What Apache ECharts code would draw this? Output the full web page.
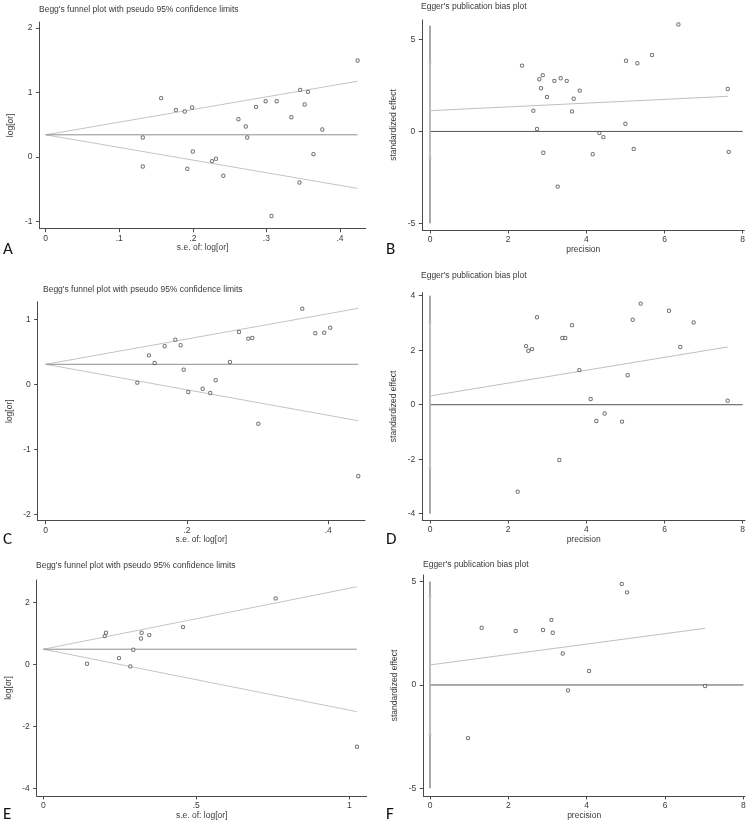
<!DOCTYPE html>
<html><head><meta charset="utf-8">
<script src="https://cdn.jsdelivr.net/npm/echarts@6/dist/echarts.min.js"></script>
<style>html,body{margin:0;padding:0;background:#fff}#c{width:755px;height:826px}</style>
</head><body><div id="c"></div>
<script>
// ---------- Titles / labels ----------
const beggTitle = "Begg's funnel plot with pseudo 95% confidence limits";
const eggerTitle = "Egger's publication bias plot";
const beggXName = "s.e. of: log[or]";
const beggYName = "log[or]";
const eggerXName = "precision";
const eggerYName = "standardized effect";
const panelLetters = ["A", "B", "C", "D", "E", "F"];

// ---------- Tick values ----------
const ticksA_x = [0, 0.1, 0.2, 0.3, 0.4];
const ticksA_y = [-1, 0, 1, 2];
const ticksB_x = [0, 2, 4, 6, 8];
const ticksB_y = [-5, 0, 5];
const ticksC_x = [0, 0.2, 0.4];
const ticksC_y = [-2, -1, 0, 1];
const ticksD_x = [0, 2, 4, 6, 8];
const ticksD_y = [-4, -2, 0, 2, 4];
const ticksE_x = [0, 0.5, 1];
const ticksE_y = [-4, -2, 0, 2];
const ticksF_x = [0, 2, 4, 6, 8];
const ticksF_y = [-5, 0, 5];

// ---------- Panel A: Begg ----------
const seA = [0.132,0.132,0.157,0.177,0.189,0.199,0.1925,0.200,0.226,0.2315,0.2415,0.262,0.272,0.274,0.286,0.299,0.307,0.314,0.334,0.346,0.345,0.352,0.3565,0.364,0.376,0.424];
const logOrA = [0.299,-0.150,0.909,0.728,0.702,0.764,-0.186,0.083,-0.067,-0.031,-0.294,0.583,0.470,0.299,0.774,0.862,-0.919,0.862,0.614,1.038,-0.398,0.811,1.007,0.041,0.423,1.492];
const funnelA = { pooled: 0.341, seMax: 0.424, upperEnd: 1.172, lowerEnd: -0.490 };

// ---------- Panel B: Egger ----------
const precB = [2.354,2.644,2.738,2.797,2.840,2.883,2.900,2.994,3.181,3.266,3.343,3.497,3.633,3.676,3.830,4.162,4.333,4.435,4.998,5.015,5.211,5.305,5.680,6.354,7.616,7.642];
const effB = [3.58,1.13,0.13,2.84,2.35,3.06,-1.16,1.87,2.75,-3.00,2.89,2.75,1.09,1.78,2.22,-1.24,-0.09,-0.31,0.42,3.84,-0.95,3.71,4.16,5.82,2.31,-1.11];
const eggerB = { intercept: 1.13, xEnd: 7.62, yEnd: 1.91, ciLow: -1.43, ciHigh: 3.76, vLow: -5, vHigh: 5.75 };

// ---------- Panel C: Begg ----------
const seC = [0.1297,0.1462,0.1542,0.1684,0.1835,0.1910,0.1953,0.2019,0.2222,0.2330,0.2406,0.2608,0.2736,0.2868,0.2925,0.3010,0.3632,0.3816,0.3943,0.4028,0.4425];
const logOrC = [0.026,0.446,0.328,0.585,0.687,0.600,0.226,-0.118,-0.067,-0.133,0.062,0.344,0.805,0.703,0.713,-0.605,1.164,0.785,0.795,0.872,-1.415];
const funnelC = { pooled: 0.308, seMax: 0.4425, upperEnd: 1.169, lowerEnd: -0.560 };

// ---------- Panel D: Egger ----------
const precD = [2.243,2.456,2.516,2.610,2.738,3.309,3.386,3.463,3.633,3.821,4.111,4.256,4.469,4.913,5.058,5.186,5.390,6.115,6.405,6.746,7.616];
const effD = [-3.19,2.15,1.98,2.04,3.21,-2.03,2.45,2.45,2.92,1.27,0.21,-0.60,-0.32,-0.62,1.08,3.12,3.71,3.45,2.12,3.02,0.15];
const eggerD = { intercept: 0.32, xEnd: 7.62, yEnd: 2.12, ciLow: -2.32, ciHigh: 3.01, vLow: -4, vHigh: 4 };

// ---------- Panel E: Begg ----------
const seE = [0.1428,0.2006,0.2049,0.2474,0.2844,0.2941,0.3193,0.3214,0.3464,0.4565,0.7594,1.025];
const logOrE = [0.021,0.912,1.020,0.204,-0.064,0.472,0.837,1.020,0.944,1.202,2.125,-2.651];
const funnelE = { pooled: 0.49, seMax: 1.025, upperEnd: 2.50, lowerEnd: -1.52 };

// ---------- Panel F: Egger ----------
const precF = [0.970,1.319,2.187,2.885,3.098,3.132,3.387,3.523,4.060,4.894,5.030,7.021];
const effF = [-2.57,2.77,2.61,2.66,3.15,2.53,1.52,-0.26,0.68,4.89,4.48,-0.05];
const eggerF = { intercept: 0.97, xEnd: 7.02, yEnd: 2.74, ciLow: -2.40, ciHigh: 4.29, vLow: -5, vHigh: 5 };

// ---------- Layout (pixels) ----------
const layout = [
  { left: 39.5, top: 22, w: 326.2, h: 206.7, xr: [-0.0084, 0.435], yr: [-1.115, 2.09], titleX: 39, titleY: 10, letterY: 251 },
  { left: 422.3, top: 20, w: 322, h: 210, xr: [-0.197, 8.04], yr: [-5.36, 6.06], titleX: 421, titleY: 7.5, letterY: 251 },
  { left: 37.7, top: 301.7, w: 327.3, h: 219, xr: [-0.0113, 0.452], yr: [-2.098, 1.271], titleX: 43, titleY: 290, letterY: 541.5 },
  { left: 422.3, top: 292.7, w: 322.7, h: 227.3, xr: [-0.197, 8.06], yr: [-4.23, 4.11], titleX: 421, titleY: 276, letterY: 541.5 },
  { left: 36.7, top: 580, w: 330, h: 216, xr: [-0.0216, 1.057], yr: [-4.235, 2.718], titleX: 36, titleY: 566.5, letterY: 816 },
  { left: 423.3, top: 575, w: 321.7, h: 221, xr: [-0.171, 8.04], yr: [-5.37, 5.32], titleX: 423, titleY: 565, letterY: 816 }
];

const FONT = "'Liberation Sans', Arial, sans-serif";
const AX = '#4a4a4a';
const TXT = '#3a3a3a';
const PT = '#4f4f4f';
const LIGHT = '#c4c4c4';

function fmtStata(v) {
  if (v === 0) return '0';
  let s = String(v);
  s = s.replace(/^0\./, '.').replace(/^-0\./, '-.');
  return s;
}

const grids = [], xAxes = [], yAxes = [], series = [], titles = [], graphics = [];

function addPanel(i, xTicks, yTicks, xName, yName, title) {
  const L = layout[i];
  grids.push({ left: L.left, top: L.top, width: L.w, height: L.h, containLabel: false });
  xAxes.push({
    gridIndex: i, type: 'value', min: L.xr[0], max: L.xr[1],
    name: xName, nameLocation: 'middle', nameGap: 13,
    nameTextStyle: { fontFamily: FONT, fontSize: 8.5, color: TXT },
    axisLine: { show: true, onZero: false, lineStyle: { color: AX, width: 1 } },
    axisTick: { show: true, length: 3.5, inside: false, customValues: xTicks, lineStyle: { color: AX } },
    axisLabel: { show: true, customValues: xTicks, margin: 5, fontFamily: FONT, fontSize: 8.5, color: TXT, formatter: fmtStata },
    splitLine: { show: false }
  });
  yAxes.push({
    gridIndex: i, type: 'value', min: L.yr[0], max: L.yr[1],
    name: yName, nameLocation: 'middle', nameGap: 24, nameRotate: 90,
    nameTextStyle: { fontFamily: FONT, fontSize: 8.5, color: TXT },
    axisLine: { show: true, onZero: false, lineStyle: { color: AX, width: 1 } },
    axisTick: { show: true, length: 3.5, customValues: yTicks, lineStyle: { color: AX } },
    axisLabel: { show: true, customValues: yTicks, margin: 7, fontFamily: FONT, fontSize: 8.5, color: TXT, formatter: fmtStata },
    splitLine: { show: false }
  });
  titles.push({
    text: title, left: L.titleX, top: L.titleY - 5,
    textStyle: { fontFamily: FONT, fontSize: 8.5, fontWeight: 'normal', color: TXT }, padding: 0
  });
  graphics.push({
    type: 'text', left: (i % 2 === 0) ? 3 : 386, top: L.letterY - 10,
    style: { text: panelLetters[i], fontFamily: "Carlito, Lato, 'Open Sans', sans-serif", fontSize: 17, fill: '#111' }
  });
}

function lineSeries(i, data, color, width, z) {
  series.push({
    type: 'line', xAxisIndex: i, yAxisIndex: i, data: data, showSymbol: false, symbol: 'none',
    lineStyle: { color: color, width: width || 1 }, silent: true, z: z || 2, animation: false
  });
}
function scatterSeries(i, xs, ys) {
  series.push({
    type: 'scatter', xAxisIndex: i, yAxisIndex: i, data: xs.map((x, k) => [x, ys[k]]),
    symbol: 'circle', symbolSize: 3.4,
    itemStyle: { color: '#ffffff', borderColor: PT, borderWidth: 1 }, z: 5, animation: false
  });
}

function beggPanel(i, xTicks, yTicks, se, lor, f) {
  addPanel(i, xTicks, yTicks, beggXName, beggYName, beggTitle);
  lineSeries(i, [[0, f.pooled], [f.seMax, f.upperEnd]], LIGHT, 1);
  lineSeries(i, [[0, f.pooled], [f.seMax, f.lowerEnd]], LIGHT, 1);
  lineSeries(i, [[0, f.pooled], [f.seMax, f.pooled]], '#8f8f8f', 1);
  scatterSeries(i, se, lor);
}

function eggerPanel(i, xTicks, yTicks, prec, eff, e) {
  addPanel(i, xTicks, yTicks, eggerXName, eggerYName, eggerTitle);
  lineSeries(i, [[0, e.vLow], [0, e.vHigh]], '#555555', 1, 2);
  lineSeries(i, [[0, 0], [8, 0]], '#555555', 1, 2);
  lineSeries(i, [[0, e.ciLow], [0, e.ciHigh]], '#c8c8c8', 1.2, 3);
  lineSeries(i, [[0, e.intercept], [e.xEnd, e.yEnd]], '#c0c0c0', 1, 3);
  series.push({
    type: 'scatter', xAxisIndex: i, yAxisIndex: i, data: [[0, e.ciLow], [0, e.ciHigh]],
    symbol: 'circle', symbolSize: 3, itemStyle: { color: '#bdbdbd' }, z: 4, silent: true, animation: false
  });
  scatterSeries(i, prec, eff);
}

beggPanel(0, ticksA_x, ticksA_y, seA, logOrA, funnelA);
eggerPanel(1, ticksB_x, ticksB_y, precB, effB, eggerB);
beggPanel(2, ticksC_x, ticksC_y, seC, logOrC, funnelC);
eggerPanel(3, ticksD_x, ticksD_y, precD, effD, eggerD);
beggPanel(4, ticksE_x, ticksE_y, seE, logOrE, funnelE);
eggerPanel(5, ticksF_x, ticksF_y, precF, effF, eggerF);

const chart = echarts.init(document.getElementById('c'), null, { renderer: 'canvas' });
chart.setOption({
  backgroundColor: '#ffffff',
  animation: false,
  title: titles,
  grid: grids,
  xAxis: xAxes,
  yAxis: yAxes,
  series: series,
  graphic: graphics
});
</script>
</body></html>
